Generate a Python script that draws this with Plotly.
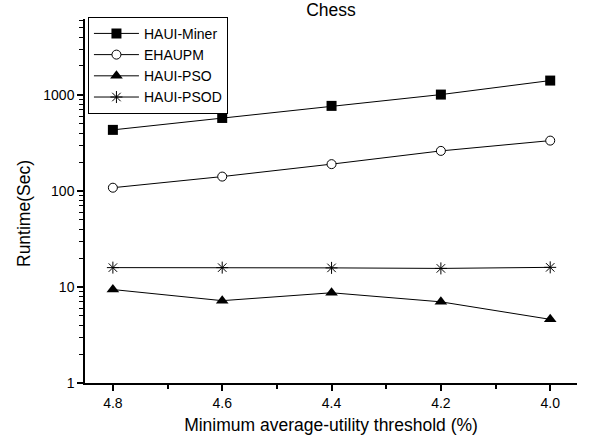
import plotly.graph_objects as go

thresholds = [4.8, 4.6, 4.4, 4.2, 4.0]
haui_miner = [432, 575, 768, 1007, 1409]
ehaupm = [108, 141, 190, 261, 334]
haui_pso = [9.4, 7.2, 8.7, 7.0, 4.6]
haui_psod = [15.9, 15.9, 15.8, 15.6, 16.0]

x_tickvals = [4.8, 4.6, 4.4, 4.2, 4.0]
x_ticktext = ["4.8", "4.6", "4.4", "4.2", "4.0"]
y_tickvals = [1, 10, 100, 1000]
y_ticktext = ["1", "10", "100", "1000"]

FONT = "Liberation Sans, Arial, sans-serif"
BIG = 17.5

series = [
    ("HAUI-Miner", haui_miner, dict(symbol="square", size=10, color="black")),
    ("EHAUPM", ehaupm, dict(symbol="circle", size=9, color="white", line=dict(color="black", width=1))),
    ("HAUI-PSO", haui_pso, dict(symbol="triangle-up", size=11, color="black")),
    ("HAUI-PSOD", haui_psod, dict(symbol="asterisk-open", size=10, color="black", line=dict(color="black", width=1))),
]

fig = go.Figure()
for name, vals, mk in series:
    fig.add_trace(go.Scatter(
        x=thresholds, y=vals, name=name, mode="lines+markers",
        line=dict(color="black", width=1), marker=mk,
    ))

fig.update_layout(
    width=590, height=443,
    margin=dict(l=85, r=13, t=19, b=60),
    paper_bgcolor="white", plot_bgcolor="white",
    font=dict(family=FONT, color="black", size=14),
    title=dict(text="Chess", x=0.561, xanchor="center", y=0.977, yanchor="middle",
               font=dict(size=BIG, family=FONT, color="black")),
    showlegend=True,
    legend=dict(x=0.006, y=1.006, xanchor="left", yanchor="top",
                bordercolor="black", borderwidth=1, bgcolor="white",
                font=dict(size=14, family=FONT, color="black"),
                tracegroupgap=0, itemwidth=45),
    annotations=[dict(text="Runtime(Sec)", textangle=-90, xref="paper", yref="paper",
                      x=-0.124, y=0.467, xanchor="center", yanchor="middle", showarrow=False,
                      font=dict(size=BIG, family=FONT, color="black"))],
)

fig.update_xaxes(
    range=[4.851, 3.951], tickvals=x_tickvals, ticktext=x_ticktext,
    showline=True, linecolor="black", linewidth=1.5, mirror=False,
    ticks="outside", ticklen=6, tickwidth=1.5, tickcolor="black",
    showgrid=False, zeroline=False, tickfont=dict(size=14),
    minor=dict(tickvals=[4.7, 4.5, 4.3, 4.1], ticks="outside", ticklen=4, tickwidth=1.5, tickcolor="black", showgrid=False),
    title=dict(text="Minimum average-utility threshold (%)", font=dict(size=BIG), standoff=9),
)
fig.update_yaxes(
    type="log", range=[0, 3.79], tickvals=y_tickvals, ticktext=y_ticktext,
    showline=True, linecolor="black", linewidth=1.5, mirror=False,
    ticks="outside", ticklen=6, tickwidth=1.5, tickcolor="black",
    showgrid=False, zeroline=False, tickfont=dict(size=14),
    minor=dict(dtick="D1", ticks="outside", ticklen=4, tickwidth=1, tickcolor="black", showgrid=False),
)

fig.write_html("out.html")
